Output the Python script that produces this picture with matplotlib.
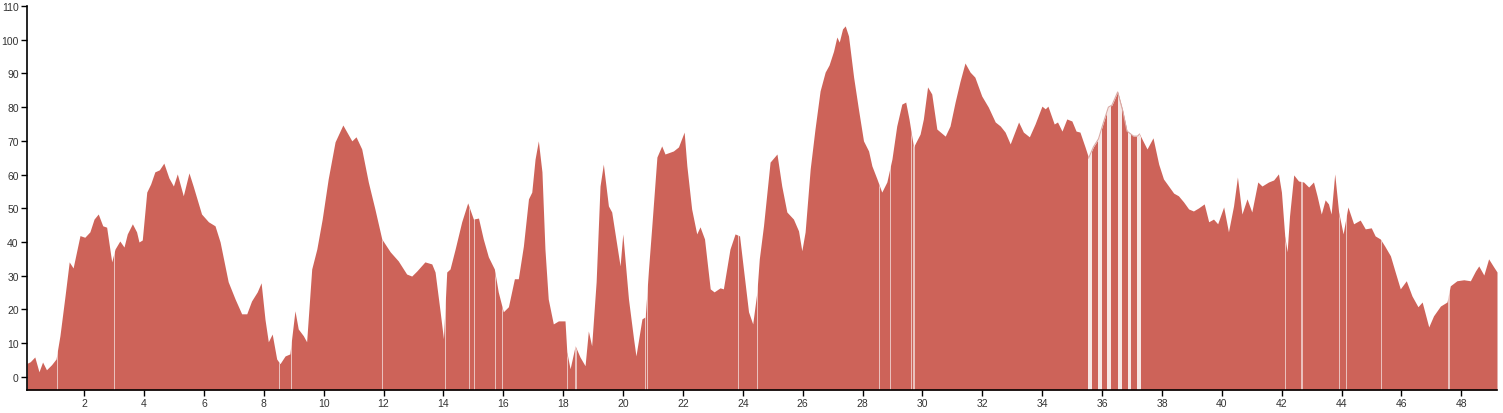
import matplotlib
matplotlib.use("Agg")
import matplotlib.pyplot as plt
import numpy as np

# distance (km) and elevation profile
dist = [
    0.09, 0.20, 0.35, 0.49, 0.61, 0.74, 0.91, 1.06, 1.19, 1.36, 1.50, 1.63, 1.86, 2.02,
    2.19, 2.33, 2.47, 2.62, 2.75, 2.92, 3.03, 3.19, 3.33, 3.44, 3.61, 3.75, 3.83, 3.94,
    4.09, 4.22, 4.36, 4.51, 4.66, 4.83, 4.98, 5.11, 5.31, 5.50, 5.64, 5.92, 6.15, 6.37,
    6.54, 6.81, 7.04, 7.26, 7.43, 7.59, 7.78, 7.91, 8.04, 8.15, 8.28, 8.43, 8.54, 8.71,
    8.87, 9.04, 9.15, 9.32, 9.43, 9.60, 9.77, 9.95, 10.15, 10.38, 10.64, 10.94, 11.08,
    11.27, 11.49, 11.71, 11.94, 12.22, 12.49, 12.77, 12.94, 13.11, 13.38, 13.61, 13.72,
    13.89, 14.00, 14.11, 14.22, 14.39, 14.61, 14.81, 15.00, 15.17, 15.33, 15.50, 15.70,
    15.83, 16.00, 16.17, 16.37, 16.50, 16.67, 16.84, 16.95, 17.06, 17.17, 17.29, 17.39,
    17.50, 17.67, 17.84, 18.06, 18.12, 18.23, 18.40, 18.56, 18.73, 18.84, 18.95, 19.10,
    19.23, 19.34, 19.51, 19.62, 19.90, 19.99, 20.18, 20.35, 20.43, 20.63, 20.74, 20.85,
    20.96, 21.13, 21.29, 21.40, 21.68, 21.85, 22.04, 22.13, 22.29, 22.46, 22.57, 22.72,
    22.91, 23.04, 23.24, 23.35, 23.46, 23.57, 23.74, 23.89, 24.02, 24.19, 24.33, 24.47,
    24.55, 24.69, 24.91, 25.14, 25.30, 25.47, 25.69, 25.86, 25.97, 26.08, 26.25, 26.41,
    26.58, 26.75, 26.88, 27.03, 27.14, 27.22, 27.33, 27.42, 27.53, 27.70, 27.86, 28.03,
    28.20, 28.31, 28.48, 28.64, 28.81, 28.98, 29.14, 29.31, 29.44, 29.55, 29.70, 29.92,
    30.03, 30.17, 30.31, 30.48, 30.76, 30.92, 31.09, 31.25, 31.42, 31.59, 31.75, 31.98,
    32.20, 32.43, 32.60, 32.76, 32.93, 33.21, 33.37, 33.57, 33.76, 33.99, 34.10, 34.19,
    34.40, 34.51, 34.66, 34.82, 34.99, 35.13, 35.26, 35.43, 35.55, 35.71, 35.88, 36.05,
    36.21, 36.33, 36.52, 36.69, 36.83, 37.05, 37.18, 37.25, 37.38, 37.50, 37.70, 37.89,
    38.05, 38.22, 38.39, 38.55, 38.72, 38.89, 39.05, 39.22, 39.41, 39.56, 39.72, 39.86,
    40.06, 40.22, 40.39, 40.52, 40.67, 40.84, 41.00, 41.20, 41.34, 41.56, 41.73, 41.89,
    41.99, 42.10, 42.18, 42.26, 42.40, 42.56, 42.73, 42.90, 43.06, 43.18, 43.32, 43.45,
    43.56, 43.65, 43.77, 43.90, 44.05, 44.21, 44.40, 44.62, 44.79, 44.99, 45.12, 45.29,
    45.44, 45.63, 45.79, 45.96, 46.16, 46.35, 46.55, 46.69, 46.91, 47.07, 47.30, 47.52,
    47.63, 47.85, 48.08, 48.30, 48.47, 48.58, 48.75, 48.91, 49.08, 49.19,
]
elev = [
    4.0, 4.5, 5.9, 1.5, 4.4, 2.1, 3.6, 5.3, 12.2, 24.0, 34.1, 32.3, 41.9, 41.4,
    43.0, 46.8, 48.3, 44.8, 44.4, 34.1, 37.9, 40.3, 38.5, 42.4, 45.4, 43.0, 40.0, 40.6,
    54.8, 57.2, 60.8, 61.4, 63.4, 59.0, 56.6, 60.2, 53.7, 60.5, 56.6, 48.3, 46.0, 44.8,
    40.0, 28.2, 23.1, 18.7, 18.7, 22.5, 25.2, 27.9, 17.0, 10.4, 12.7, 5.3, 3.9, 6.2,
    6.8, 19.6, 14.2, 12.2, 10.4, 32.0, 37.9, 46.8, 58.7, 69.7, 74.7, 70.0, 71.2,
    67.6, 57.8, 49.8, 40.9, 37.1, 34.4, 30.5, 29.9, 31.4, 34.1, 33.5, 31.1,
    19.3, 11.3, 31.1, 32.0, 37.9, 46.0, 51.6, 46.8, 47.1, 40.9, 35.6, 32.0,
    25.2, 19.3, 20.8, 29.1, 29.1, 38.8, 52.8, 54.8, 64.6, 70.0, 60.8, 37.9,
    23.1, 15.7, 16.6, 16.6, 7.4, 2.4, 9.2, 5.9, 3.3, 13.6, 9.2, 28.2,
    56.6, 63.1, 50.7, 48.9, 32.9, 42.4, 23.1, 11.3, 6.2, 17.2, 17.8, 32.0,
    44.8, 65.2, 68.5, 66.1, 67.0, 68.2, 72.6, 62.6, 49.8, 42.4, 44.5, 40.9,
    26.1, 25.2, 26.4, 26.1, 32.0, 37.9, 42.4, 41.8, 32.0, 19.3, 15.7, 25.2,
    35.0, 44.8, 63.7, 66.1, 56.6, 48.9, 46.8, 43.3, 37.4, 43.0, 61.7, 73.5,
    84.8, 90.4, 92.5, 96.6, 100.8, 99.3, 103.2, 104.1, 101.1, 88.9, 79.5, 70.0,
    67.0, 62.6, 58.7, 54.8, 57.8, 64.6, 74.4, 80.9, 81.5, 76.5, 68.2, 72.0,
    76.5, 86.0, 83.9, 73.5, 71.4, 74.4, 81.5, 87.5, 93.1, 90.4, 88.9, 83.3,
    80.0, 75.6, 74.4, 72.6, 69.1, 75.6, 72.6, 71.2, 75.0, 80.3, 79.5, 80.3,
    75.0, 75.6, 72.9, 76.5, 75.9, 72.9, 72.6, 68.2, 64.9, 68.2, 70.6, 75.6,
    80.0, 80.6, 84.5, 78.9, 72.9, 71.4, 71.4, 72.0, 69.7, 67.6, 70.9, 63.1,
    58.7, 56.6, 54.5, 53.7, 51.9, 49.8, 49.2, 50.1, 51.3, 46.0, 46.8, 45.4,
    50.4, 43.0, 50.7, 59.3, 48.3, 52.8, 48.9, 57.8, 56.6, 57.8, 58.4, 60.2,
    54.8, 41.8, 37.1, 47.7, 59.9, 58.1, 57.8, 56.3, 57.8, 53.7, 48.3, 52.5,
    51.3, 48.3, 60.2, 48.9, 42.4, 50.4, 45.4, 46.5, 43.9, 44.2, 41.8, 40.9,
    38.8, 35.9, 31.1, 26.1, 28.5, 24.0, 20.8, 22.2, 14.8, 18.1, 21.0, 22.2,
    27.0, 28.5, 28.8, 28.5, 31.4, 32.9, 30.2, 35.0, 32.6, 31.1,
]

# breaks in the profile (start km, width km)
thin_gaps = [1.10, 3.00, 8.52, 8.90, 11.94, 14.05, 14.86, 15.03, 15.72, 15.97, 18.14,
             18.41, 20.74, 20.81, 23.83, 24.47, 28.56, 28.93, 29.61, 29.70, 42.10,
             42.66, 43.90, 44.13, 45.32, 47.57]
wide_gaps = [35.52, 35.85, 36.18, 36.52, 36.85, 37.18]

x_ticks = list(range(2, 50, 2))
y_ticks = list(range(0, 120, 10))

FILL = "#cd6359"
Y_MIN = -3.9

fig = plt.figure(figsize=(15.03, 4.14), dpi=100)
ax = fig.add_axes([27 / 1503, 1 - 391 / 414, 1470 / 1503, 384 / 414])

x = np.array(dist)
y = np.array(elev)
area = ax.fill_between(x, y, Y_MIN, color=FILL, linewidth=0)
clip = area.get_paths()[0]

for g in thin_gaps:
    s = ax.axvspan(g, g + 0.035, color="white", alpha=0.6, linewidth=0)
    s.set_clip_path(clip, transform=ax.transData)
for g in wide_gaps:
    s = ax.axvspan(g, g + 0.13, color="white", alpha=0.85, linewidth=0)
    s.set_clip_path(clip, transform=ax.transData)

# faint outline over the broken stretch
m = (x >= 35.45) & (x <= 37.35)
ax.plot(x[m], y[m], color="#d9aaa5", linewidth=0.8)

ax.set_xlim(0.09, 49.19)
ax.set_ylim(Y_MIN, 110)
ax.set_xticks(x_ticks)
ax.set_yticks(y_ticks)
ax.tick_params(labelsize=7.5, labelcolor="#333333", length=4, width=1,
               pad=2)
for lab in ax.get_xticklabels() + ax.get_yticklabels():
    lab.set_fontfamily("Liberation Sans")
for side in ("top", "right"):
    ax.spines[side].set_visible(False)
for side in ("left", "bottom"):
    ax.spines[side].set_linewidth(1.2)

fig.savefig("out.png", dpi=100)
